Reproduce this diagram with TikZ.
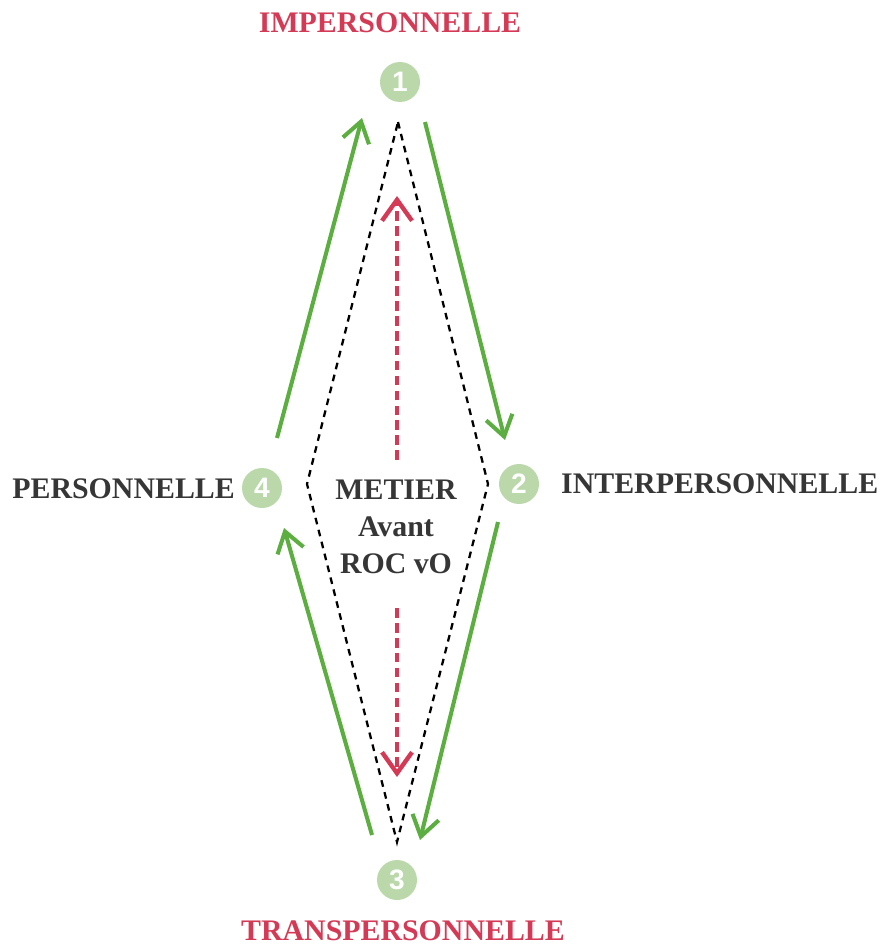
\documentclass[tikz,border=0pt]{standalone}
\usepackage{fontspec}
\setmainfont{Liberation Serif}
\setsansfont{Liberation Sans}
\usetikzlibrary{arrows.meta}
\definecolor{rosered}{HTML}{D43A55}
\definecolor{leafgreen}{HTML}{5BAE3F}
\definecolor{palegreen}{HTML}{BBD8AB}
\definecolor{inkgray}{HTML}{363636}
\begin{document}
\begin{tikzpicture}[
  x=0.02cm,y=-0.02cm,
  flow/.style={-{Straight Barb[length=4mm,width=5.4mm]},line width=2.3pt,leafgreen},
  axis/.style={-{Straight Barb[length=4.2mm,width=6mm]},line width=2.5pt,rosered,dash pattern=on 5.5pt off 3pt},
  rim/.style={line width=1.3pt,black,dash pattern=on 3.8pt off 3.2pt},
  stage/.style={circle,fill=palegreen,text=white,minimum size=0.8cm,inner sep=0pt,font=\sffamily\bfseries\fontsize{16}{16}\selectfont},
  pole/.style={font=\bfseries\fontsize{17}{17}\selectfont,text=rosered},
  side/.style={font=\bfseries\fontsize{17}{17}\selectfont,text=inkgray}
]
\useasboundingbox (0,0) rectangle (880,946);

\node[stage] (n1) at (400,82) {1};
\node[stage] (n2) at (519,484) {2};
\node[stage] (n3) at (397,880) {3};
\node[stage] (n4) at (262,488) {4};

\node[pole] (imp) at (390,23) {IMPERSONNELLE};
\node[pole] (trans) at (403,931) {TRANSPERSONNELLE};
\node[side,anchor=east] (pers) at (241,489) {PERSONNELLE};
\node[side,anchor=west] (inter) at (555,484) {INTERPERSONNELLE};

\node[side,align=center,font=\bfseries\fontsize{17}{21}\selectfont] (core) at (396,527) {METIER\\Avant\\ROC vO};

\coordinate (dtop) at (398,122);
\coordinate (dright) at (488,484);
\coordinate (dbot) at (397,842);
\coordinate (dleft) at (307,484);
\draw[rim] (dtop) -- (dright) -- (dbot) -- (dleft) -- cycle;

\coordinate (up0) at (397,460);
\coordinate (up1) at (397,196);
\coordinate (dn0) at (397,608);
\coordinate (dn1) at (397,777);
\draw[axis] (up0) -- (up1);
\draw[axis] (dn0) -- (dn1);

\coordinate (a41) at (277,438);
\coordinate (b41) at (362,118);
\coordinate (a12) at (425,122);
\coordinate (b12) at (505,440);
\coordinate (a23) at (498,522);
\coordinate (b23) at (420,840);
\coordinate (a34) at (372,835);
\coordinate (b34) at (284,528);
\draw[flow] (a41) -- (b41);
\draw[flow] (a12) -- (b12);
\draw[flow] (a23) -- (b23);
\draw[flow] (a34) -- (b34);
\end{tikzpicture}
\end{document}
